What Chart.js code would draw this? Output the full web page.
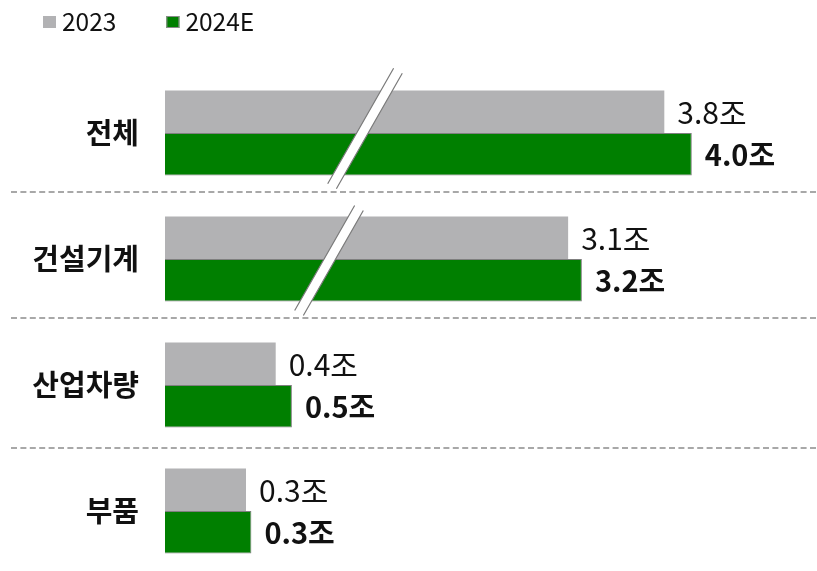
<!DOCTYPE html>
<html>
<head>
<meta charset="utf-8">
<script src="https://cdn.jsdelivr.net/npm/chart.js@4/dist/chart.umd.min.js"></script>
<style>
  html, body { margin: 0; padding: 0; background: #ffffff; overflow: hidden; }
  #wrap { position: relative; width: 817px; height: 575px; }
</style>
</head>
<body>
<div id="wrap"><canvas id="c"></canvas></div>
<script>
// ---- data ----
const categories = ['전체', '건설기계', '산업차량', '부품'];
const seriesNames = ['2023', '2024E'];
const values2023 = [3.8, 3.1, 0.41, 0.30];
const values2024E = [4.0, 3.2, 0.47, 0.32];
const unitSuffix = '조';

// ---- broken (piecewise) value scale ----
function warp(v) {
  if (v <= 0.9) return 270 * v;
  if (v >= 2) return 252 + 137.4 * (v - 2);
  return 243 + (v - 0.9) / 1.1 * 9;
}
function unwarp(p) {
  if (p <= 243) return p / 270;
  if (p >= 252) return 2 + (p - 252) / 137.4;
  return 0.9 + (p - 243) / 9 * 1.1;
}
class BrokenScale extends Chart.LinearScale {
  getPixelForValue(v) { return super.getPixelForValue(v == null ? v : warp(v)); }
  getValueForPixel(p) { return unwarp(super.getValueForPixel(p)); }
}
BrokenScale.id = 'broken';
BrokenScale.defaults = Chart.LinearScale.defaults;
Chart.register(BrokenScale);

const FONT = '"Noto Sans CJK KR", "Noto Sans", sans-serif';
const GRAY = '#b2b2b4';
const GREEN = '#007f00';

// ---- decorations ----
const decoPlugin = {
  id: 'deco',
  beforeDatasetsDraw(chart) {
    const ctx = chart.ctx;
    const y = chart.scales.y;
    ctx.save();
    ctx.strokeStyle = '#8c8c8c';
    ctx.lineWidth = 1.6;
    ctx.setLineDash([6, 3.4]);
    const shifts = [-4, -4, 0];
    for (let i = 0; i < categories.length - 1; i++) {
      const yy = Math.round((y.getPixelForTick(i) + y.getPixelForTick(i + 1)) / 2) + shifts[i];
      ctx.beginPath();
      ctx.moveTo(11, yy);
      ctx.lineTo(817, yy);
      ctx.stroke();
    }
    ctx.restore();
  },
  afterDatasetsDraw(chart) {
    const ctx = chart.ctx;
    const area = chart.chartArea;
    const y = chart.scales.y;
    // axis break marks
    const breaks = [
      { idx: 0, dx: 200, dy: -4.5, len: 133 },
      { idx: 1, dx: 164, dy: 1.5, len: 121 }
    ];
    const ang = 60.3 * Math.PI / 180;
    const u = { x: -Math.cos(ang), y: Math.sin(ang) };
    const n = { x: Math.sin(ang), y: Math.cos(ang) };
    const g = 5;
    ctx.save();
    breaks.forEach(b => {
      const cx = area.left + b.dx;
      const cy = y.getPixelForTick(b.idx) + b.dy;
      const h = b.len / 2;
      const p1 = { x: cx - g * n.x - h * u.x, y: cy - g * n.y - h * u.y };
      const p2 = { x: cx + g * n.x - h * u.x, y: cy + g * n.y - h * u.y };
      const p3 = { x: cx + g * n.x + h * u.x, y: cy + g * n.y + h * u.y };
      const p4 = { x: cx - g * n.x + h * u.x, y: cy - g * n.y + h * u.y };
      ctx.fillStyle = '#ffffff';
      ctx.beginPath();
      ctx.moveTo(p1.x, p1.y); ctx.lineTo(p2.x, p2.y); ctx.lineTo(p3.x, p3.y); ctx.lineTo(p4.x, p4.y);
      ctx.closePath();
      ctx.fill();
      ctx.strokeStyle = '#7a7a7a';
      ctx.lineWidth = 1.2;
      ctx.beginPath();
      ctx.moveTo(p1.x, p1.y); ctx.lineTo(p4.x, p4.y);
      ctx.moveTo(p2.x, p2.y); ctx.lineTo(p3.x, p3.y);
      ctx.stroke();
    });
    // value labels
    chart.data.datasets.forEach((ds, di) => {
      const meta = chart.getDatasetMeta(di);
      ctx.font = (di === 1 ? 'bold 29px ' : '30px ') + FONT;
      ctx.fillStyle = '#111111';
      ctx.textAlign = 'left';
      ctx.textBaseline = 'middle';
      meta.data.forEach((el, i) => {
        ctx.fillText(ds.data[i].toFixed(1) + unitSuffix, el.x + 13, el.y + 1);
      });
    });
    ctx.restore();
  },
  afterDraw(chart) {
    // legend
    const ctx = chart.ctx;
    ctx.save();
    ctx.font = '24.5px ' + FONT;
    ctx.textBaseline = 'middle';
    ctx.textAlign = 'left';
    let x = 43;
    chart.data.datasets.forEach((ds, di) => {
      ctx.fillStyle = ds.backgroundColor;
      ctx.fillRect(x, 16, 13, 12);
      if (di === 1) {
        ctx.strokeStyle = '#8a8a8a';
        ctx.lineWidth = 1;
        ctx.strokeRect(x + 0.5, 16.5, 12, 11);
      }
      ctx.fillStyle = '#111111';
      ctx.fillText(ds.label, x + 19, 22);
      x += 19 + ctx.measureText(ds.label).width + 50;
    });
    ctx.restore();
  }
};

new Chart(document.getElementById('c'), {
  type: 'bar',
  data: {
    labels: categories,
    datasets: [
      { label: seriesNames[0], data: values2023, backgroundColor: GRAY, borderWidth: 0 },
      { label: seriesNames[1], data: values2024E, backgroundColor: GREEN, borderColor: '#7f7f7f', borderWidth: 1 }
    ]
  },
  options: {
    indexAxis: 'y',
    responsive: true,
    maintainAspectRatio: false,
    animation: false,
    devicePixelRatio: 1,
    layout: { padding: { top: 70, right: 2, bottom: 1, left: 0 } },
    datasets: { bar: { barPercentage: 1, categoryPercentage: 0.675 } },
    plugins: { legend: { display: false }, tooltip: { enabled: false } },
    scales: {
      x: { type: 'broken', min: 0, max: 650, display: false },
      y: {
        type: 'category',
        grid: { display: false, drawTicks: false },
        border: { display: false },
        ticks: { padding: 26, color: '#111111', font: { family: FONT, size: 29, weight: 'bold' } },
        afterFit(scale) { scale.width = 165; scale.paddingTop = 0; scale.paddingBottom = 0; }
      }
    }
  },
  plugins: [decoPlugin]
});
</script>
</body>
</html>
